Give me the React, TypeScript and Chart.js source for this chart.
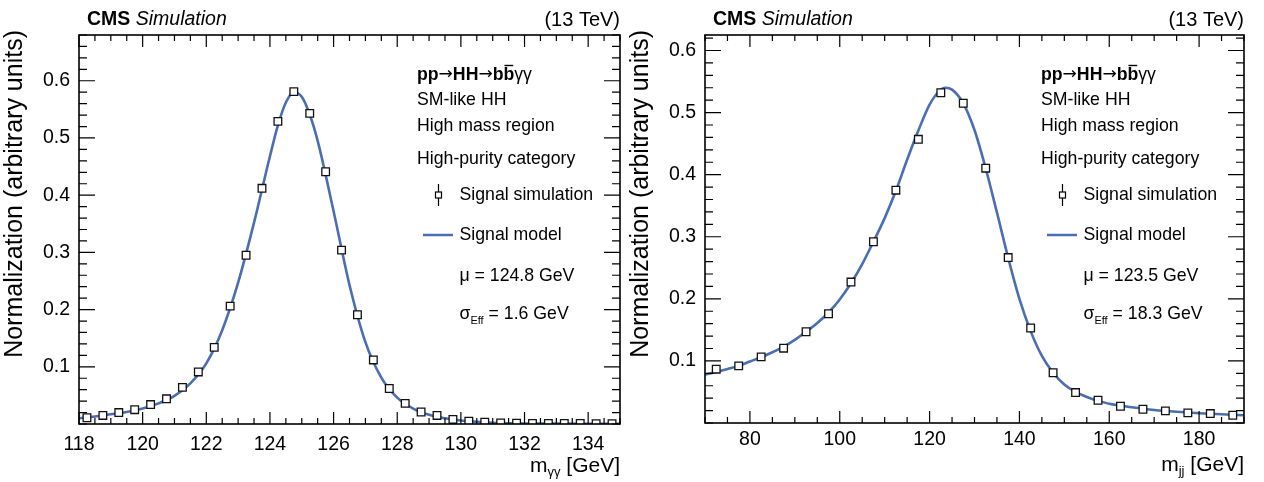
import React, { useEffect, useRef } from 'react';
import { Chart, registerables } from 'chart.js';

Chart.register(...registerables);

// ---------- data: left panel (m_gammagamma) ----------
const GG_X = [
  118.25, 118.75, 119.25, 119.75, 120.25, 120.75, 121.25, 121.75, 122.25, 122.75,
  123.25, 123.75, 124.25, 124.75, 125.25, 125.75, 126.25, 126.75, 127.25, 127.75,
  128.25, 128.75, 129.25, 129.75, 130.25, 130.75, 131.25, 131.75, 132.25, 132.75,
  133.25, 133.75, 134.25, 134.75,
];
const GG_Y = [
  0.011, 0.015, 0.020, 0.025, 0.034, 0.044, 0.064, 0.091, 0.134, 0.206,
  0.295, 0.412, 0.529, 0.581, 0.543, 0.441, 0.304, 0.191, 0.112, 0.062,
  0.036, 0.021, 0.015, 0.008, 0.005, 0.003, 0.002, 0.0015, 0.001, 0.001,
  0.001, 0.0008, 0.0007, 0.0006,
];
const GG_MODEL_X = [
  118.0, 118.5, 119.0, 119.5, 120.0, 120.5, 121.0, 121.5, 122.0, 122.5,
  123.0, 123.5, 124.0, 124.25, 124.5, 124.75, 125.0, 125.25, 125.5, 126.0,
  126.5, 127.0, 127.5, 128.0, 128.5, 129.0, 129.5, 130.0, 130.5, 131.0,
  132.0, 133.0, 134.0, 135.0,
];
const GG_MODEL_Y = [
  0.010, 0.013, 0.017, 0.021, 0.027, 0.036, 0.049, 0.071, 0.106, 0.164,
  0.247, 0.352, 0.468, 0.522, 0.562, 0.580, 0.572, 0.541, 0.495, 0.372,
  0.243, 0.143, 0.081, 0.046, 0.027, 0.016, 0.010, 0.006, 0.004, 0.002,
  0.001, 0.0006, 0.0004, 0.0003,
];

// ---------- data: right panel (m_jj) ----------
const JJ_X = [
  72.5, 77.5, 82.5, 87.5, 92.5, 97.5, 102.5, 107.5, 112.5, 117.5, 122.5, 127.5,
  132.5, 137.5, 142.5, 147.5, 152.5, 157.5, 162.5, 167.5, 172.5, 177.5, 182.5, 187.5,
];
const JJ_Y = [
  0.0867, 0.092, 0.1065, 0.1205, 0.147, 0.176, 0.227, 0.292, 0.375, 0.457, 0.532, 0.515,
  0.4105, 0.2665, 0.153, 0.081, 0.049, 0.0367, 0.027, 0.0222, 0.0195, 0.0163, 0.0152, 0.0125,
];
const JJ_MODEL_X = [
  70, 72.5, 75, 77.5, 80, 82.5, 85, 87.5, 90, 92.5, 95, 97.5, 100, 102.5, 105, 107.5,
  110, 112.5, 115, 117.5, 120, 122.5, 123.5, 125, 127.5, 130, 132.5, 135, 137.5, 140,
  142.5, 145, 147.5, 150, 152.5, 155, 157.5, 160, 165, 170, 175, 180, 185, 190,
];
const JJ_MODEL_Y = [
  0.078, 0.082, 0.087, 0.092, 0.099, 0.106, 0.114, 0.123, 0.134, 0.147, 0.161, 0.178,
  0.199, 0.225, 0.256, 0.292, 0.330, 0.374, 0.424, 0.471, 0.513, 0.537, 0.540, 0.537,
  0.515, 0.472, 0.410, 0.339, 0.266, 0.200, 0.148, 0.108, 0.081, 0.062, 0.050, 0.042,
  0.036, 0.031, 0.0255, 0.021, 0.018, 0.0158, 0.014, 0.0125,
];

// ---------- ticks ----------
const GG_X_TICKS = [118, 120, 122, 124, 126, 128, 130, 132, 134];
const JJ_X_TICKS = [80, 100, 120, 140, 160, 180];
const Y_TICKS = [0.1, 0.2, 0.3, 0.4, 0.5, 0.6];
const GG_X_MINOR_STEP = 0.5;
const JJ_X_MINOR_STEP = 5;
const Y_MINOR_STEP = 0.02;

const LEGEND_LINES = ['SM-like HH', 'High mass region', 'High-purity category'];
const GG_MU = '124.8';
const GG_SIGMA = '1.6';
const JJ_MU = '123.5';
const JJ_SIGMA = '18.3';

const FAM = '"Liberation Sans", Arial, Helvetica, sans-serif';
const SYM = '"DejaVu Sans", sans-serif';
const BLUE = '#4a6db3';

type Run = { t: string; font: string; dy?: number; over?: boolean };

function drawRuns(ctx: CanvasRenderingContext2D, runs: Run[], x: number, y: number, align: 'left' | 'right') {
  ctx.save();
  ctx.textAlign = 'left';
  ctx.textBaseline = 'middle';
  let total = 0;
  const widths = runs.map((r) => {
    ctx.font = r.font;
    const w = ctx.measureText(r.t).width;
    total += w;
    return w;
  });
  let cx = align === 'right' ? x - total : x;
  runs.forEach((r, i) => {
    ctx.font = r.font;
    ctx.fillText(r.t, cx, y + (r.dy || 0));
    if (r.over) {
      ctx.beginPath();
      ctx.lineWidth = 1.4;
      ctx.moveTo(cx + 1, y - 9.5);
      ctx.lineTo(cx + widths[i] - 1, y - 9.5);
      ctx.stroke();
    }
    cx += widths[i];
  });
  ctx.restore();
}

type PanelCfg = {
  xMin: number;
  xMax: number;
  yMax: number;
  xTicks: number[];
  xMinorStep: number;
  xLabelDy: number;
  yTitleX: number;
  sub: string;
  mu: string;
  sigma: string;
};

function makePlugin(cfg: PanelCfg) {
  return {
    id: 'rootStyle',
    afterDraw(chart: any) {
      const ctx: CanvasRenderingContext2D = chart.ctx;
      const { left, right, top, bottom } = chart.chartArea;
      const xs = chart.scales.x;
      const ys = chart.scales.y;
      ctx.save();
      ctx.strokeStyle = '#000';
      ctx.fillStyle = '#000';
      // frame
      ctx.lineWidth = 1.6;
      ctx.strokeRect(left, top, right - left, bottom - top);
      ctx.lineWidth = 1.2;
      // x ticks (bottom and top)
      const eps = 1e-6;
      for (let v = cfg.xMin; v <= cfg.xMax + eps; v += cfg.xMinorStep) {
        const isMajor = cfg.xTicks.some((t) => Math.abs(t - v) < eps);
        const len = isMajor ? 12 : 6;
        const px = xs.getPixelForValue(v);
        ctx.beginPath();
        ctx.moveTo(px, bottom);
        ctx.lineTo(px, bottom - len);
        ctx.moveTo(px, top);
        ctx.lineTo(px, top + len);
        ctx.stroke();
      }
      // y ticks (left and right)
      for (let v = 0; v <= cfg.yMax + eps; v += Y_MINOR_STEP) {
        const isMajor = Y_TICKS.some((t) => Math.abs(t - v) < eps);
        const len = isMajor ? 16 : 8;
        const py = ys.getPixelForValue(v);
        ctx.beginPath();
        ctx.moveTo(left, py);
        ctx.lineTo(left + len, py);
        ctx.moveTo(right, py);
        ctx.lineTo(right - len, py);
        ctx.stroke();
      }
      // tick labels
      ctx.font = `19.5px ${FAM}`;
      ctx.textAlign = 'center';
      ctx.textBaseline = 'middle';
      cfg.xTicks.forEach((t) => {
        ctx.fillText(String(t), xs.getPixelForValue(t), bottom + cfg.xLabelDy);
      });
      ctx.textAlign = 'right';
      Y_TICKS.forEach((t) => {
        ctx.fillText(t.toFixed(1), left - 9, ys.getPixelForValue(t));
      });
      // y title
      ctx.save();
      ctx.translate(cfg.yTitleX, 30);
      ctx.rotate(-Math.PI / 2);
      ctx.font = `25px ${FAM}`;
      ctx.textAlign = 'right';
      ctx.textBaseline = 'middle';
      ctx.fillText('Normalization (arbitrary units)', 0, 0);
      ctx.restore();
      // x title
      drawRuns(
        ctx,
        [
          { t: 'm', font: `21px ${FAM}` },
          { t: cfg.sub, font: `13px ${FAM}`, dy: 6 },
          { t: ' [GeV]', font: `21px ${FAM}` },
        ],
        right,
        bottom + 42,
        'right'
      );
      // header
      drawRuns(
        ctx,
        [
          { t: 'CMS', font: `bold 19.5px ${FAM}` },
          { t: ' Simulation', font: `italic 19.5px ${FAM}` },
        ],
        left + 8,
        20,
        'left'
      );
      drawRuns(ctx, [{ t: '(13 TeV)', font: `20px ${FAM}` }], right, 20, 'right');
      // legend block
      const lx = right - 203;
      const f = `17.7px ${FAM}`;
      const fb = `bold 17.7px ${FAM}`;
      const fs = `17px ${SYM}`;
      drawRuns(
        ctx,
        [
          { t: 'pp', font: fb },
          { t: '→', font: fs },
          { t: 'HH', font: fb },
          { t: '→', font: fs },
          { t: 'b', font: fb },
          { t: 'b', font: fb, over: true },
          { t: 'γγ', font: f },
        ],
        lx,
        75,
        'left'
      );
      drawRuns(ctx, [{ t: LEGEND_LINES[0], font: f }], lx, 100, 'left');
      drawRuns(ctx, [{ t: LEGEND_LINES[1], font: f }], lx, 126.5, 'left');
      drawRuns(ctx, [{ t: LEGEND_LINES[2], font: f }], lx, 159.5, 'left');
      const tx = right - 160.5;
      // signal simulation marker
      const mx = right - 181.5;
      const my = 195;
      ctx.lineWidth = 1.2;
      ctx.beginPath();
      ctx.moveTo(mx, my - 11);
      ctx.lineTo(mx, my + 11);
      ctx.stroke();
      ctx.fillStyle = '#fff';
      ctx.fillRect(mx - 3, my - 3, 6, 6);
      ctx.strokeRect(mx - 3, my - 3, 6, 6);
      ctx.fillStyle = '#000';
      drawRuns(ctx, [{ t: 'Signal simulation', font: f }], tx, my, 'left');
      // signal model
      ctx.strokeStyle = BLUE;
      ctx.lineWidth = 2.5;
      ctx.beginPath();
      ctx.moveTo(right - 197, 235);
      ctx.lineTo(right - 167, 235);
      ctx.stroke();
      ctx.strokeStyle = '#000';
      drawRuns(ctx, [{ t: 'Signal model', font: f }], tx, 235, 'left');
      drawRuns(ctx, [{ t: `μ = ${cfg.mu} GeV`, font: f }], tx, 276.5, 'left');
      drawRuns(
        ctx,
        [
          { t: 'σ', font: f },
          { t: 'Eff', font: `11px ${FAM}`, dy: 6 },
          { t: ` = ${cfg.sigma} GeV`, font: f },
        ],
        tx,
        314.5,
        'left'
      );
      ctx.restore();
    },
  };
}

type PanelProps = {
  cfg: PanelCfg;
  xs: number[];
  ys: number[];
  mx: number[];
  my: number[];
  canvasLeft: number;
  canvasWidth: number;
  pad: { left: number; right: number; top: number; bottom: number };
};

function Panel({ cfg, xs, ys, mx, my, canvasLeft, canvasWidth, pad }: PanelProps) {
  const ref = useRef<HTMLCanvasElement | null>(null);
  useEffect(() => {
    if (!ref.current) return;
    const chart = new Chart(ref.current, {
      type: 'scatter',
      data: {
        datasets: [
          {
            label: 'Signal simulation',
            data: xs.map((x, i) => ({ x, y: ys[i] })),
            pointStyle: 'rect',
            pointRadius: 5.4,
            pointBorderWidth: 1.3,
            pointBorderColor: '#111',
            pointBackgroundColor: '#fff',
            showLine: false,
            order: 0,
          } as any,
          {
            label: 'Signal model',
            data: mx.map((x, i) => ({ x, y: my[i] })),
            showLine: true,
            borderColor: BLUE,
            borderWidth: 2.6,
            pointRadius: 0,
            cubicInterpolationMode: 'monotone',
            order: 1,
          } as any,
        ],
      },
      options: {
        responsive: false,
        animation: false,
        events: [],
        layout: { padding: pad },
        plugins: { legend: { display: false }, tooltip: { enabled: false } },
        scales: {
          x: { type: 'linear', min: cfg.xMin, max: cfg.xMax, display: false },
          y: { type: 'linear', min: 0, max: cfg.yMax, display: false },
        },
      },
      plugins: [makePlugin(cfg)],
    });
    return () => chart.destroy();
  }, []);
  return (
    <canvas
      ref={ref}
      width={canvasWidth}
      height={482}
      style={{ position: 'absolute', left: canvasLeft, top: 0, width: canvasWidth, height: 482 }}
    />
  );
}

export default function App() {
  const ggCfg: PanelCfg = {
    xMin: 118,
    xMax: 135,
    yMax: 0.68,
    xTicks: GG_X_TICKS,
    xMinorStep: GG_X_MINOR_STEP,
    xLabelDy: 21,
    yTitleX: 15,
    sub: 'γγ',
    mu: GG_MU,
    sigma: GG_SIGMA,
  };
  const jjCfg: PanelCfg = {
    xMin: 70,
    xMax: 190,
    yMax: 0.625,
    xTicks: JJ_X_TICKS,
    xMinorStep: JJ_X_MINOR_STEP,
    xLabelDy: 17,
    yTitleX: 16,
    sub: 'jj',
    mu: JJ_MU,
    sigma: JJ_SIGMA,
  };
  return (
    <div style={{ position: 'fixed', left: 0, top: 0, width: 1264, height: 482, background: '#fff' }}>
      <Panel
        cfg={ggCfg}
        xs={GG_X}
        ys={GG_Y}
        mx={GG_MODEL_X}
        my={GG_MODEL_Y}
        canvasLeft={0}
        canvasWidth={640}
        pad={{ left: 79, right: 20, top: 35, bottom: 58 }}
      />
      <Panel
        cfg={jjCfg}
        xs={JJ_X}
        ys={JJ_Y}
        mx={JJ_MODEL_X}
        my={JJ_MODEL_Y}
        canvasLeft={625}
        canvasWidth={639}
        pad={{ left: 80, right: 20, top: 35, bottom: 59 }}
      />
    </div>
  );
}
